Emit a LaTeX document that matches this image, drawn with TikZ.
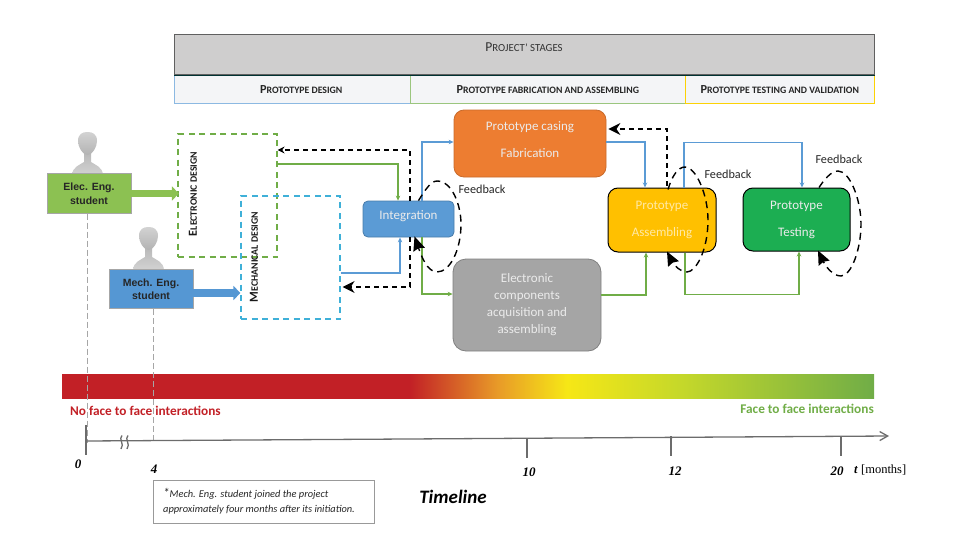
\documentclass[tikz,border=0pt]{standalone}
\usepackage{fontspec}
\setmainfont{Carlito}
\newfontfamily\arialf{Liberation Sans}
\newfontfamily\timesf{Liberation Serif}
\usetikzlibrary{arrows.meta,calc}
\definecolor{hdrgray}{HTML}{CFCECE}
\definecolor{cellbg}{HTML}{F4F5F7}
\definecolor{mygreen}{HTML}{70AD47}
\definecolor{myblue}{HTML}{5B9BD5}
\definecolor{cyanb}{HTML}{3FB0D8}
\definecolor{barred}{HTML}{C22026}
\definecolor{barorange}{HTML}{E89A28}
\definecolor{baryellow}{HTML}{F6E716}
\definecolor{barlime}{HTML}{C5D82A}
\definecolor{stugreen}{HTML}{8CC152}
\definecolor{stublue}{HTML}{5597D3}
\definecolor{caseorange}{HTML}{ED7D31}
\definecolor{asmyellow}{HTML}{FFC000}
\definecolor{tstgreen}{HTML}{1CAE52}
\definecolor{elegray}{HTML}{A5A5A5}
\pgfdeclarehorizontalshading{barshade}{100bp}{color(0bp)=(barred); color(46.4bp)=(barred); color(51.8bp)=(barorange); color(56.1bp)=(baryellow); color(63.1bp)=(barlime); color(75bp)=(mygreen); color(100bp)=(mygreen)}
\newcommand{\capsA}[2]{{\fontsize{12.3}{14}\selectfont #1}{\fontsize{9.8}{14}\selectfont #2}}
\newcommand{\capsC}[2]{{\fontsize{13.6}{15}\selectfont #1}{\fontsize{10.8}{15}\selectfont #2}}
\tikzset{
  x=1pt,y=-1pt,
  hcell/.style={draw=#1,line width=.5pt,fill=cellbg,text=black!85,font=\bfseries,inner sep=0pt,minimum height=28pt,anchor=north west},
  stage/.style={rounded corners=#1,align=center,text=white!92!black,font=\fontsize{13}{17}\selectfont,inner sep=0pt},
  student/.style={draw=gray!70,line width=.7pt,font=\arialf\bfseries\fontsize{10.5}{13.5}\selectfont,text=black!85,align=center,inner sep=0pt,minimum width=84pt,minimum height=39.5pt},
  dbox/.style={draw=#1,dash pattern=on 6pt off 4.5pt,line width=1.2pt,inner sep=0pt},
  vlabel/.style={rotate=90,font=\bfseries,text=black!90,inner sep=0pt},
  flow/.style={draw=#1,line width=1.2pt,-{Stealth[length=5pt,width=4.5pt]}},
  thick flow/.style={draw=#1,line width=7.5pt,-{Stealth[length=7pt,width=14pt,inset=0pt]}},
  fb/.style={draw=black,line width=1.2pt,dash pattern=on 5pt off 4pt,-{Stealth[length=#1,width=#1]}},
  loop/.style={draw=black,line width=1.4pt,dash pattern=on 7pt off 5pt,-{Stealth[length=14pt,width=12pt,inset=1.5pt]}},
  fblabel/.style={font=\fontsize{12.2}{14}\selectfont,text=black!85,inner sep=0pt},
  num/.style={font=\timesf\bfseries\itshape\fontsize{13}{14}\selectfont,inner sep=0pt},
  axisl/.style={draw=gray!85!black,line width=1.3pt},
  guide/.style={draw=gray!70,line width=.8pt,dash pattern=on 6pt off 3pt},
  person/.pic={
    \shade[top color=gray!55,bottom color=gray!35] (-15.5,32) .. controls (-15,24) and (-8,22) .. (-3.5,19) -- (-3.5,10) -- (3.5,10) -- (3.5,19) .. controls (8,22) and (15,24) .. (15.5,32) -- cycle;
    \shade[top color=gray!35,bottom color=gray!60] (-9.5,-2) .. controls (-9.5,-9) and (-5,-11) .. (0,-11) .. controls (5,-11) and (9.5,-9) .. (9.5,-2) .. controls (9.5,4) and (5,12) .. (0,12) .. controls (-5,12) and (-9.5,4) .. (-9.5,-2) -- cycle;
  }
}
\begin{document}
\begin{tikzpicture}
\useasboundingbox (0,0) rectangle (954,538);
% header
\node[draw=gray!75!black,line width=.8pt,fill=hdrgray,minimum width=700pt,minimum height=40pt,anchor=north west,inner sep=0pt] (hdr) at (174,34) {};
\node[text=black!80,inner sep=0pt] (hdrt) at (524,47) {\capsC{P}{ROJECT’ STAGES}};
\node[hcell=myblue!70,minimum width=236pt] (c1) at (174,75) {\hspace*{18pt}\capsA{P}{ROTOTYPE DESIGN}};
\node[hcell=mygreen!70,minimum width=275pt] (c2) at (410,75) {\capsA{P}{ROTOTYPE FABRICATION AND ASSEMBLING}};
\node[hcell=yellow!70!orange,minimum width=189pt] (c3) at (685,75) {\capsA{P}{ROTOTYPE TESTING AND VALIDATION}};
\draw[black!60!teal,line width=.6pt] (hdr.south west) -- (hdr.south east);
% persons
\pic at (87.5,143) {person};
\pic at (148.5,238) {person};
% students
\node[student,fill=stugreen] (elec) at (89,193.5) {Elec. Eng.\\student};
\node[student,fill=stublue] (mech) at (151,289) {Mech. Eng.\\student};
% design boxes
\node[dbox=mygreen,minimum width=99pt,minimum height=123pt] (ed) at (227.5,195.5) {};
\node[dbox=cyanb,minimum width=99pt,minimum height=123pt] (md) at (290.5,257.5) {};
\node[vlabel] (edl) at (193,194) {\capsA{E}{LECTRONIC DESIGN}};
\node[vlabel] (mdl) at (254,257) {\capsA{M}{ECHANICAL DESIGN}};
% stages
\node[stage=5pt,draw=myblue!80!black,line width=.8pt,fill=myblue,minimum width=91pt,minimum height=36pt] (int) at (408.5,219) {Integration\rule[-7pt]{0pt}{7pt}};
\node[stage=10pt,draw=caseorange!85!black,line width=.8pt,fill=caseorange,minimum width=152pt,minimum height=67pt,font=\fontsize{13}{27}\selectfont] (cas) at (530,143.5) {Prototype casing\\Fabrication\rule[-8pt]{0pt}{8pt}};
\node[stage=13pt,draw=gray,line width=.8pt,fill=elegray,minimum width=148pt,minimum height=92pt] (ele) at (527,305) {Electronic\\components\\acquisition and\\assembling};
\node[stage=10pt,draw=black,line width=1pt,fill=asmyellow,minimum width=108pt,minimum height=64pt,text=white!65!asmyellow,font=\fontsize{13}{27}\selectfont] (asm) at (662,220) {Prototype\\Assembling};
\node[stage=10pt,draw=black,line width=1pt,fill=tstgreen,minimum width=107pt,minimum height=63pt,font=\fontsize{13}{27}\selectfont] (tst) at (796.5,219.5) {Prototype\\Testing};
% thick arrows
\draw[thick flow=stugreen] ([yshift=0pt]elec.east) -- ([xshift=1.5pt]elec.east -| ed.west);
\draw[thick flow=stublue] ([yshift=-4pt]mech.east) -- ([yshift=-4pt]mech.east -| md.west);
% colour flows
\draw[flow=mygreen] ([yshift=31.5pt]ed.east) -| ([xshift=-10.5pt]int.north);
\draw[flow=myblue] ([yshift=-15.5pt]md.east) -| ([xshift=-8.5pt]int.south);
\draw[flow=myblue] ([xshift=13.5pt]int.north) |- ([yshift=1.5pt]cas.west);
\draw[flow=mygreen] ([xshift=13.5pt]int.south) |- ([yshift=11pt]ele.west);
\draw[flow=myblue] ([yshift=1.5pt]cas.east) -| ([xshift=-17pt]asm.north);
\draw[flow=mygreen] ([yshift=10pt]ele.east) -| ([xshift=-16pt]asm.south);
\draw[flow=myblue] ([xshift=22pt]asm.north) -- ++(0,-45) -| ([xshift=5.5pt]tst.north);
\draw[flow=mygreen] ([xshift=23pt]asm.south) -- ++(0,42) -| ([xshift=2.5pt]tst.south);
% dashed feedback
\draw[fb=7pt] ([xshift=1.5pt]int.north) |- ([yshift=45.5pt]ed.east);
\draw[fb=12pt] ([xshift=1.5pt]int.south) |- ([yshift=-29.5pt,xshift=2pt]md.east);
\draw[fb=12pt] ([xshift=5pt,yshift=2pt]asm.north) |- ([xshift=2pt,yshift=14.5pt]cas.east);
% feedback loops
\draw[loop] ([xshift=10pt]int.north) .. controls (425,190) and (431,181) .. (437,181) .. controls (452,181) and (461,205) .. (461,224) .. controls (461,250) and (450,272) .. (437,272) .. controls (427,272) and (421,255) .. ([xshift=6pt,yshift=1pt]int.south);
\draw[loop] ([xshift=6pt,yshift=-2pt]asm.north) .. controls (672,176) and (678,167) .. (685,167) .. controls (696,167) and (708,195) .. (708,220) .. controls (708,250) and (696,272) .. (687,272) .. controls (680,272) and (674,265) .. ([xshift=5pt,yshift=1pt]asm.south);
\draw[loop] ([xshift=22.5pt]tst.north) .. controls (824,180) and (831,171) .. (838,171) .. controls (850,171) and (861,200) .. (861,224) .. controls (861,250) and (851,276) .. (841,276) .. controls (832,276) and (825,265) .. ([xshift=21.5pt,yshift=1pt]tst.south);
\node[fblabel] (fb1) at (482,189) {Feedback};
\node[fblabel] (fb2) at (728,174) {Feedback};
\node[fblabel] (fb3) at (839,159) {Feedback};
% gradient bar
\shade[shading=barshade] (62,374) rectangle (874,398);
\node[anchor=west,inner sep=0pt,text=barred,font=\bfseries\fontsize{13.3}{15}\selectfont] (nf) at (70,411) {No face to face interactions};
\node[anchor=east,inner sep=0pt,text=mygreen,font=\bfseries\fontsize{13.3}{15}\selectfont] (ff) at (874,409) {Face to face interactions};
% guides
\draw[guide] (elec.south) ++(-2,0) -- ++(0,229);
\draw[guide] (mech.south) ++(2,0) -- ++(0,131);
% axis
\coordinate (ax0) at (86,441);
\coordinate (ax1) at (889,436);
\draw[axisl,-{Straight Barb[length=8pt,width=9pt]}] (ax0) -- (ax1);
\draw[axisl] (86,425) -- (86,455);
\draw[axisl] (527,438) -- (527,458);
\draw[axisl] (671,436) -- (671,456);
\draw[axisl] (841,436) -- (841,456);
\draw[gray!85!black,line width=1.3pt] (122,435.5) .. controls (118,439) and (125,444) .. (121,449);
\draw[gray!85!black,line width=1.3pt] (128,435.5) .. controls (124,439) and (131,444) .. (127,449);
\node[num] (n0) at (78,464) {0};
\node[num] (n4) at (154,469) {4};
\node[num] (n10) at (529,472) {10};
\node[num] (n12) at (675,471) {12};
\node[num] (n20) at (837,471) {20};
\node[anchor=west,inner sep=0pt,font=\timesf\fontsize{12.5}{14}\selectfont] (tm) at (854,470) {\textbf{\textit{t}} [months]};
\node[font=\bfseries\itshape\fontsize{19}{21}\selectfont,inner sep=0pt] (tl) at (453,497) {Timeline};
\node[draw=gray!80,line width=.8pt,minimum width=221pt,minimum height=43pt,anchor=north west,inner sep=0pt] (note) at (153,480) {};
\node[anchor=west,inner sep=0pt,align=left,text=black!85,font=\itshape\fontsize{10.4}{15}\selectfont] (notet) at (163,501.5) {{\fontsize{13}{15}\selectfont *}Mech. Eng. student joined the project\\approximately four months after its initiation.};
\end{tikzpicture}
\end{document}
